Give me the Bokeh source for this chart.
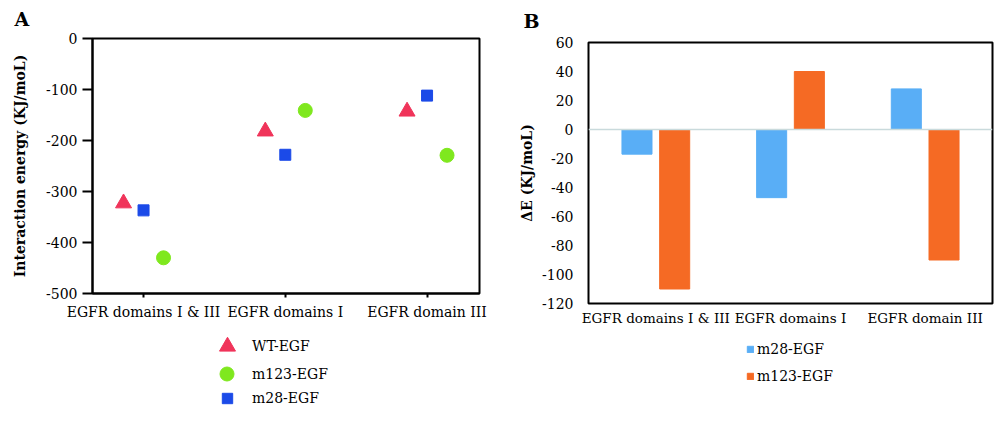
from bokeh.plotting import figure
from bokeh.layouts import row, column
from bokeh.models import (ColumnDataSource, Range1d, FactorRange, FixedTicker,
                          Legend, LegendItem, Span, PrintfTickFormatter)
from bokeh.transform import dodge
from bokeh.embed import file_html
from bokeh.resources import INLINE

# ---- data ----
domains = ["EGFR domains I & III", "EGFR domains I", "EGFR domain III"]

# Panel A: interaction energies (KJ/moL)
wt_egf = [-323, -182, -143]
m123_egf = [-430, -141, -229]
m28_egf = [-337, -228, -112]

# Panel B: energy differences relative to WT (KJ/moL)
delta_m28 = [-17, -47, 28]
delta_m123 = [-110, 40, -90]

FONT = "DejaVu Serif"
RED = "#f0345a"
GREEN = "#7fe81e"
BLUE = "#1b4ae8"
LBLUE = "#59aef6"
ORANGE = "#f56a24"

MAIN_H = 328
KEY_H = 421 - MAIN_H
NAN = float("nan")


def style_title(p, standoff, offset):
    p.title.text_font = FONT
    p.title.text_font_style = "bold"
    p.title.text_font_size = "19px"
    p.title.text_color = "black"
    p.title.align = "left"
    p.title.vertical_align = "top"
    p.title.standoff = standoff
    p.title.offset = offset


def key_figure():
    # bare canvas that only hosts the legend under a chart
    k = figure(width=500, height=KEY_H, output_backend="svg",
               toolbar_location=None, x_axis_location=None,
               y_axis_location=None, min_border=0, x_range=Range1d(0, 1),
               y_range=Range1d(0, 1), outline_line_color=None,
               background_fill_color="white", border_fill_color="white")
    k.grid.visible = False
    return k


def key_legend(items, loc, gw, gh, standoff, **kw):
    return Legend(items=items, location=loc, glyph_width=gw, glyph_height=gh,
                  label_standoff=standoff, padding=0, margin=0,
                  border_line_color=None, background_fill_alpha=0,
                  label_text_font=FONT, label_text_font_size="14px",
                  label_text_color="black", **kw)


# ---------------- Panel A ----------------
src_a = ColumnDataSource(dict(pos=list(range(len(domains))), wt=wt_egf,
                              m123=m123_egf, m28=m28_egf))

pa = figure(width=500, height=MAIN_H, output_backend="svg",
            toolbar_location=None, x_range=Range1d(-0.36, 2.37),
            y_range=Range1d(-500, 0), title="A",
            min_border_left=92, min_border_right=21, min_border_top=38,
            min_border_bottom=MAIN_H - 293, background_fill_color="white",
            border_fill_color="white")
style_title(pa, 13, -78)
pa.grid.visible = False
pa.outline_line_color = "black"
pa.outline_line_width = 2

pa.scatter(x=dodge("pos", -0.141), y="wt", source=src_a, marker="triangle",
           size=16, color=RED)
pa.scatter(x=dodge("pos", 0.141), y="m123", source=src_a, marker="circle",
           size=14, color=GREEN)
pa.scatter(x="pos", y="m28", source=src_a, marker="square", size=11, color=BLUE)

pa.xaxis.ticker = FixedTicker(ticks=list(range(len(domains))))
pa.xaxis.major_label_overrides = {i: d for i, d in enumerate(domains)}
pa.yaxis.ticker = FixedTicker(ticks=[0, -100, -200, -300, -400, -500])
pa.yaxis.formatter = PrintfTickFormatter(format="%d")
pa.yaxis.axis_label = "Interaction energy (KJ/moL)"
for ax in (pa.xaxis[0], pa.yaxis[0]):
    ax.axis_line_width = 2
    ax.axis_line_color = "black"
    ax.major_tick_line_width = 2
    ax.major_tick_line_color = "black"
    ax.major_tick_in = 0
    ax.minor_tick_line_color = None
    ax.major_label_text_font = FONT
    ax.major_label_text_font_size = "14px"
    ax.major_label_text_color = "black"
pa.xaxis.major_tick_out = 4
pa.xaxis.major_label_standoff = 6
pa.yaxis.major_tick_out = 10
pa.yaxis.major_label_standoff = 5
pa.yaxis.axis_label_text_font = FONT
pa.yaxis.axis_label_text_font_style = "bold"
pa.yaxis.axis_label_text_font_size = "14px"
pa.yaxis.axis_label_text_color = "black"
pa.yaxis.axis_label_standoff = 15

# key for panel A: one legend per series so each symbol keeps its own size
# (legend positions are measured from the left edge of the aligned frame)
ka = key_figure()
k_wt = ka.scatter(x=[NAN], y=[NAN], marker="triangle", color=RED)
k_m123 = ka.scatter(x=[NAN], y=[NAN], marker="circle", color=GREEN)
k_m28 = ka.scatter(x=[NAN], y=[NAN], marker="square", color=BLUE)
for label, rend, g, standoff, loc in [("WT-EGF", k_wt, 40, 5, (115, 55)),
                                      ("m123-EGF", k_m123, 35, 8, (117, 30)),
                                      ("m28-EGF", k_m28, 26, 12, (122, 10))]:
    ka.add_layout(key_legend([LegendItem(label=label, renderers=[rend])],
                             loc, g, g, standoff), "center")

# ---------------- Panel B ----------------
src_b = ColumnDataSource(dict(domain=domains, m28=delta_m28, m123=delta_m123))

pb = figure(width=500, height=MAIN_H, output_backend="svg",
            toolbar_location=None, x_range=FactorRange(*domains),
            y_range=Range1d(-120, 60), title="B",
            min_border_left=88, min_border_right=8, min_border_top=42,
            min_border_bottom=MAIN_H - 304, background_fill_color="white",
            border_fill_color="white")
style_title(pb, 17, -65)
pb.grid.visible = False
pb.outline_line_color = "black"
pb.outline_line_width = 2

pb.add_layout(Span(location=0, dimension="width", line_color="#c9dadc",
                   line_width=1.5))

pb.vbar(x=dodge("domain", -0.14, range=pb.x_range), top="m28", bottom=0,
        width=0.223, source=src_b, color=LBLUE)
pb.vbar(x=dodge("domain", 0.14, range=pb.x_range), top="m123", bottom=0,
        width=0.223, source=src_b, color=ORANGE)

pb.yaxis.ticker = FixedTicker(ticks=list(range(-120, 61, 20)))
pb.yaxis.formatter = PrintfTickFormatter(format="%d")
pb.yaxis.axis_label = "\u0394E (KJ/moL)"
for ax in (pb.xaxis[0], pb.yaxis[0]):
    ax.axis_line_color = None
    ax.major_tick_line_color = None
    ax.minor_tick_line_color = None
    ax.major_tick_in = 0
    ax.major_tick_out = 0
    ax.major_label_text_font = FONT
    ax.major_label_text_font_size = "14px"
    ax.major_label_text_color = "black"
pb.xaxis.major_label_text_font_size = "13.5px"
pb.xaxis.major_label_standoff = 6
pb.yaxis.major_label_standoff = 15
pb.yaxis.axis_label_text_font = FONT
pb.yaxis.axis_label_text_font_style = "bold"
pb.yaxis.axis_label_text_font_size = "14px"
pb.yaxis.axis_label_text_color = "black"
pb.yaxis.axis_label_standoff = 4

# key for panel B
kb = key_figure()
kb_m28 = kb.vbar(x=[NAN], top=[NAN], width=0.1, color=LBLUE)
kb_m123 = kb.vbar(x=[NAN], top=[NAN], width=0.1, color=ORANGE)
kb.add_layout(key_legend([LegendItem(label="m28-EGF", renderers=[kb_m28]),
                          LegendItem(label="m123-EGF", renderers=[kb_m123])],
                         (158, 35), 8, 8, 3, label_height=20, spacing=7),
              "center")

layout = row(column(pa, ka), column(pb, kb))
open("out.html", "w").write(file_html(layout, INLINE))
